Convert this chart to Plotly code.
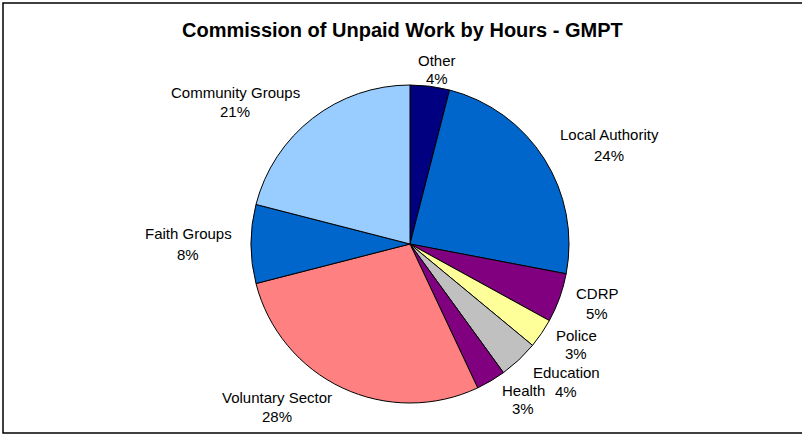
import plotly.graph_objects as go

# ---- data ----
categories = ["Other", "Local Authority", "CDRP", "Police", "Education",
              "Health", "Voluntary Sector", "Faith Groups", "Community Groups"]
percent_values = [4, 24, 5, 3, 4, 3, 28, 8, 21]
slice_colors = ["#000080", "#0066CC", "#800080", "#FFFF99", "#C0C0C0",
                "#800080", "#FF8080", "#0066CC", "#99CCFF"]
title_text = "Commission of Unpaid Work by Hours - GMPT"

# label name-line centres in pixels (layout only); percent line sits below
label_px = [(437, 60), (609, 134), (597, 293), (576, 335), (566, 372),
            (523, 390), (277, 397), (188, 234), (235, 92)]
line_gaps = [18, 21, 20, 18, 19, 18, 19, 20, 19]

W, H = 802, 435
cx, cy, r = 410, 244, 159

fig = go.Figure()
fig.add_trace(go.Pie(
    labels=categories,
    values=percent_values,
    sort=False,
    direction="clockwise",
    rotation=0,
    textinfo="none",
    hoverinfo="label+percent",
    marker=dict(colors=slice_colors, line=dict(color="black", width=1)),
    domain=dict(x=[(cx - r) / W, (cx + r) / W],
                y=[1 - (cy + r) / H, 1 - (cy - r) / H]),
    showlegend=False,
))

label_font = dict(family="Liberation Sans, Arial, sans-serif", size=15, color="black")
annotations = []
for lab, val, (px, py), gap in zip(categories, percent_values, label_px, line_gaps):
    annotations.append(dict(
        text=lab, x=px / W, y=1 - py / H, xref="paper", yref="paper",
        xanchor="center", yanchor="middle", showarrow=False, font=label_font,
        borderpad=0,
    ))
    annotations.append(dict(
        text=f"{val}%", x=px / W, y=1 - (py + gap) / H, xref="paper", yref="paper",
        xanchor="center", yanchor="middle", showarrow=False, font=label_font,
        borderpad=0,
    ))
annotations.append(dict(
    text=f"<b>{title_text}</b>",
    x=403 / W, y=1 - 30 / H, xref="paper", yref="paper",
    xanchor="center", yanchor="middle", showarrow=False,
    font=dict(family="Liberation Sans, Arial, sans-serif", size=20, color="black"),
))

fig.update_layout(
    width=W, height=H,
    margin=dict(l=0, r=0, t=0, b=0),
    paper_bgcolor="white",
    plot_bgcolor="white",
    annotations=annotations,
    shapes=[dict(type="rect", xref="paper", yref="paper",
                 x0=3 / W, x1=1.02, y0=1 - 433 / H, y1=1 - 3 / H,
                 line=dict(color="black", width=1.5), fillcolor="rgba(0,0,0,0)")],
)

fig.write_html("out.html", config={"displayModeBar": False},
               post_script="document.body.style.margin='0px';")
